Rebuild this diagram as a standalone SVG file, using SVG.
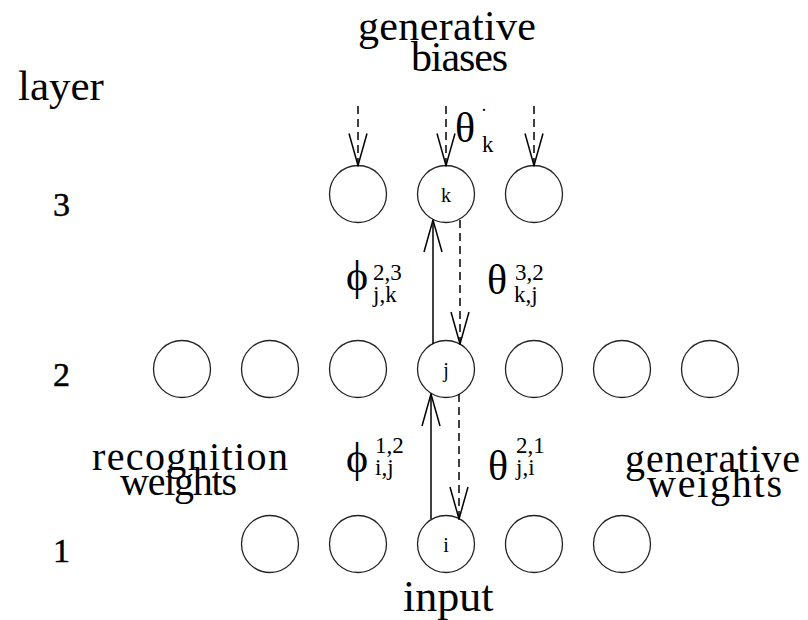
<svg xmlns="http://www.w3.org/2000/svg" width="808" height="620" viewBox="0 0 808 620">
<style>
.n{fill:#fff;stroke:#222;stroke-width:1.3}
.t{font-family:"Liberation Serif","Times New Roman",serif;fill:#000}
.big{font-size:40px}
.lab{font-size:20px}
.g{font-size:42px}
.s{font-size:23px}
.num{font-size:34px;stroke:#000;stroke-width:0.5}
.c{stroke:#000;stroke-width:1.5;fill:none}
.d{stroke-dasharray:8 5}
</style>
<defs>
<marker id="v" viewBox="0 0 34 20" refX="33" refY="10" markerWidth="34" markerHeight="20" markerUnits="userSpaceOnUse" orient="auto">
<path d="M1,1 L33,10 L1,19" fill="none" stroke="#000" stroke-width="1.5"/>
</marker>
</defs>
<g id="labels">
<text class="t" x="18" y="100" style="font-size:43px">layer</text>
<text class="t" x="358" y="40" style="font-size:42px" textLength="178">generative</text>
<text class="t" x="411" y="71" style="font-size:42px" textLength="97">biases</text>
<text class="t num" x="53" y="216">3</text>
<text class="t num" x="53" y="386">2</text>
<text class="t num" x="53" y="562">1</text>
<text class="t big" x="92" y="470" textLength="196">recognition</text>
<text class="t big" x="120" y="495" textLength="117">weights</text>
<text class="t big" x="625" y="472" textLength="175">generative</text>
<text class="t big" x="647" y="497" textLength="135">weights</text>
<text class="t big" x="403" y="611" style="font-size:44px">input</text>
</g>
<g id="layer3">
<g id="n3a"><circle class="n" cx="358" cy="194" r="28.5"/></g>
<g id="n3k"><circle class="n" cx="446" cy="194" r="28.5"/><text class="t lab" x="446" y="202" text-anchor="middle">k</text></g>
<g id="n3c"><circle class="n" cx="534" cy="194" r="28.5"/></g>
</g>
<g id="layer2">
<g id="n2a"><circle class="n" cx="182" cy="369" r="28.5"/></g>
<g id="n2b"><circle class="n" cx="270" cy="369" r="28.5"/></g>
<g id="n2c"><circle class="n" cx="358" cy="369" r="28.5"/></g>
<g id="n2j"><circle class="n" cx="446" cy="369" r="28.5"/><text class="t lab" x="446" y="377" text-anchor="middle">j</text></g>
<g id="n2e"><circle class="n" cx="534" cy="369" r="28.5"/></g>
<g id="n2f"><circle class="n" cx="622" cy="369" r="28.5"/></g>
<g id="n2g"><circle class="n" cx="710" cy="369" r="28.5"/></g>
</g>
<g id="layer1">
<g id="n1a"><circle class="n" cx="270" cy="544" r="28.5"/></g>
<g id="n1b"><circle class="n" cx="358" cy="544" r="28.5"/></g>
<g id="n1i"><circle class="n" cx="446" cy="544" r="28.5"/><text class="t lab" x="446" y="552" text-anchor="middle">i</text></g>
<g id="n1d"><circle class="n" cx="534" cy="544" r="28.5"/></g>
<g id="n1e"><circle class="n" cx="622" cy="544" r="28.5"/></g>
</g>
<g id="connectors">
<line class="c d" x1="358" y1="106" x2="358" y2="165.5" marker-end="url(#v)"/>
<line class="c d" x1="446" y1="106" x2="446" y2="165.5" marker-end="url(#v)"/>
<line class="c d" x1="534" y1="106" x2="534" y2="165.5" marker-end="url(#v)"/>
<line class="c" x1="433" y1="344" x2="433" y2="220" marker-end="url(#v)"/>
<line class="c d" x1="460" y1="220" x2="460" y2="344" marker-end="url(#v)"/>
<line class="c" x1="431" y1="519" x2="431" y2="394" marker-end="url(#v)"/>
<line class="c d" x1="459" y1="394" x2="459" y2="519" marker-end="url(#v)"/>
</g>
<g id="weights">
<text class="t g" x="455" y="142">θ</text>
<text class="t" x="481" y="116" style="font-size:18px">·</text>
<text class="t s" x="482" y="152">k</text>
<text class="t g" x="346" y="290">ϕ</text>
<text class="t s" x="373" y="280">2,3</text>
<text class="t s" x="373" y="302">j,k</text>
<text class="t g" x="487" y="294">θ</text>
<text class="t s" x="515" y="280">3,2</text>
<text class="t s" x="514" y="302">k,j</text>
<text class="t g" x="346" y="472">ϕ</text>
<text class="t s" x="375" y="453">1,2</text>
<text class="t s" x="375" y="475">i,j</text>
<text class="t g" x="488" y="480">θ</text>
<text class="t s" x="516" y="453">2,1</text>
<text class="t s" x="516" y="475">j,i</text>
</g>
</svg>
